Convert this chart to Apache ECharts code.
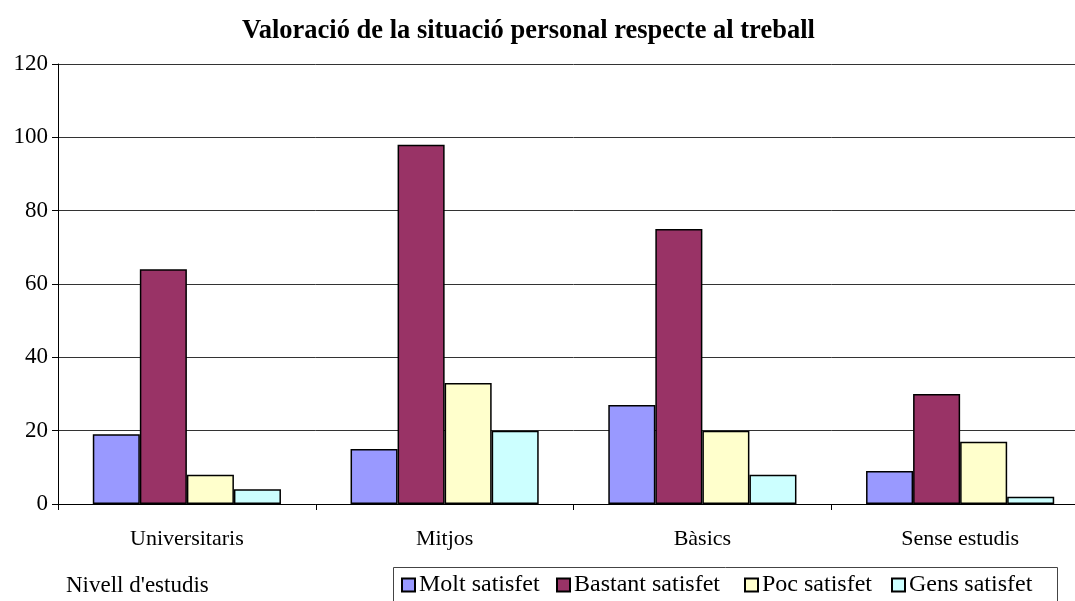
<!DOCTYPE html>
<html>
<head>
<meta charset="utf-8">
<script src="https://cdn.jsdelivr.net/npm/echarts@6/dist/echarts.min.js"></script>
<style>
html,body{margin:0;padding:0;background:#fff;overflow:hidden;}
#c{width:1089px;height:601px;}
</style>
</head>
<body>
<div id="c"></div>
<script>
var categories = ['Universitaris', 'Mitjos', 'Bàsics', 'Sense estudis'];
var seriesNames = ['Molt satisfet', 'Bastant satisfet', 'Poc satisfet', 'Gens satisfet'];
var moltSatisfet = [19, 15, 27, 9];
var bastantSatisfet = [64, 98, 75, 30];
var pocSatisfet = [8, 33, 20, 17];
var gensSatisfet = [4, 20, 8, 2];
var colors = ['#9999FF', '#993366', '#FFFFCC', '#CCFFFF'];
var yTicks = [0, 20, 40, 60, 80, 100, 120];

var FONT = '"Liberation Serif", "Times New Roman", serif';
var values = [moltSatisfet, bastantSatisfet, pocSatisfet, gensSatisfet];
var legendLefts = [401, 556, 744, 891];

var chart = echarts.init(document.getElementById('c'), null, {renderer: 'canvas'});
chart.setOption({
  animation: false,
  backgroundColor: '#ffffff',
  title: [{
    text: 'Valoració de la situació personal respecte al treball',
    left: 242,
    top: 18,
    padding: 0,
    textStyle: {fontFamily: FONT, fontSize: 26.5, fontWeight: 'bold', color: '#000'}
  }, {
    text: "Nivell d'estudis",
    left: 66,
    top: 574,
    padding: 0,
    textStyle: {fontFamily: FONT, fontSize: 23, fontWeight: 'normal', color: '#000'}
  }],
  graphic: [{
    type: 'rect',
    shape: {x: 393.5, y: 567.5, width: 664, height: 60},
    style: {fill: '#fff', stroke: '#444', lineWidth: 1},
    z: 0,
    silent: true
  }],
  legend: seriesNames.map(function (name, i) {
    return {
      data: [name],
      left: legendLefts[i],
      top: 573,
      orient: 'horizontal',
      itemWidth: 13,
      itemHeight: 13,
      icon: 'rect',
      padding: 0,
      z: 5,
      textStyle: {fontFamily: FONT, fontSize: 24, color: '#000', padding: [0, 0, 0, -1]}
    };
  }),
  grid: {left: 58, top: 64, right: 0, bottom: 97, containLabel: false},
  xAxis: {
    type: 'category',
    data: categories,
    axisLine: {lineStyle: {color: '#000', width: 1}},
    axisTick: {show: true, length: 6, lineStyle: {color: '#000'}},
    axisLabel: {fontFamily: FONT, fontSize: 22, color: '#000', margin: 24},
    splitLine: {show: false}
  },
  yAxis: {
    type: 'value',
    min: 0,
    max: 120,
    interval: 20,
    axisLine: {show: true, lineStyle: {color: '#000', width: 1}},
    axisTick: {show: true, length: 6, lineStyle: {color: '#000'}},
    axisLabel: {fontFamily: FONT, fontSize: 23, color: '#000', margin: 10,
      formatter: function (v) { return yTicks.indexOf(v) >= 0 ? String(v) : ''; }},
    splitLine: {show: true, lineStyle: {color: '#333', width: 1}}
  },
  series: seriesNames.map(function (name, i) {
    return {
      name: name,
      type: 'bar',
      data: values[i],
      barGap: '0%',
      barCategoryGap: '27%',
      itemStyle: {color: colors[i], borderColor: '#000', borderWidth: 1.5},
      emphasis: {disabled: true}
    };
  })
});
</script>
</body>
</html>
